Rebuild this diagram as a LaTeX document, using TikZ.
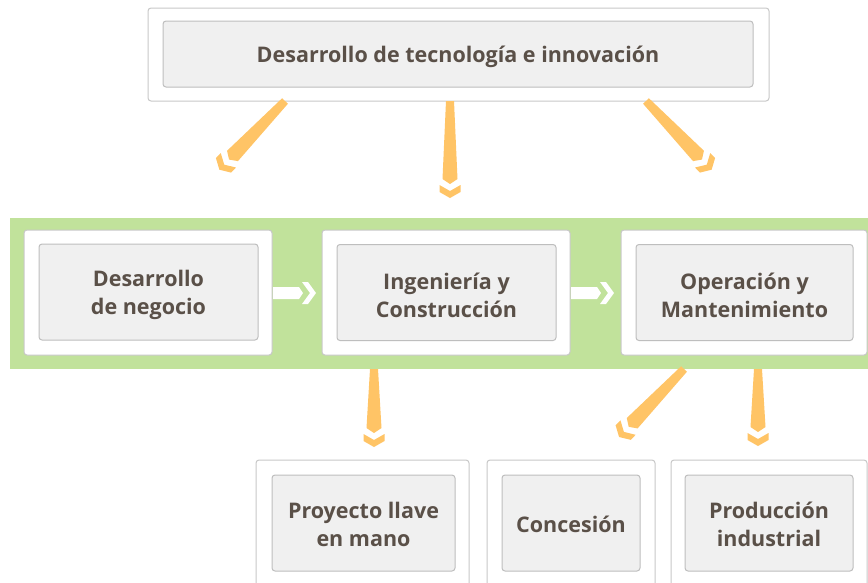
\documentclass[tikz,border=0pt]{standalone}
\usepackage{fontspec}
\setmainfont{Open Sans}
\usetikzlibrary{calc}
\definecolor{textcol}{RGB}{90,80,72}
\definecolor{outerline}{RGB}{200,200,200}
\definecolor{innerline}{RGB}{190,190,190}
\definecolor{innerfill}{RGB}{240,240,240}
\definecolor{bandcol}{RGB}{193,226,155}
\definecolor{arrowcol}{RGB}{255,196,102}
\tikzset{
  outerbox/.style={draw=outerline, fill=white, line width=1pt, rounded corners=3pt, inner sep=0pt, outer sep=0pt},
  txt/.style={align=center, text=textcol, font=\fontsize{21.5}{28}\selectfont\bfseries, yshift=-3pt, inner sep=0pt},
  boxbase/.style={draw=innerline, fill=innerfill, line width=1pt, rounded corners=3pt, inner sep=0pt, outer sep=0pt},
  innerbox/.style={boxbase, label={[txt]center:{#1}}},
  innerboxlow/.style={boxbase, label={[txt, yshift=2pt]center:{#1}}},
  chevarrow/.pic={
    \fill[arrowcol] (-4,0) -- (4,0) -- (7.5,-#1) -- (0,-#1-5) -- (-7.5,-#1) -- cycle;
    \fill[arrowcol] (-10.5,-#1-6) -- (0,-#1-12) -- (10.5,-#1-6) -- (10.5,-#1-13) -- (0,-#1-19) -- (-10.5,-#1-13) -- cycle;
  },
  whitearrow/.pic={
    \fill[white] (0,6) -- (26,6) -- (30,0) -- (26,-6) -- (0,-6) -- cycle;
    \fill[white] (29,11) -- (35,11) -- (43,0) -- (35,-11) -- (29,-11) -- (37,0) -- cycle;
  }
}
\begin{document}
\begin{tikzpicture}[x=1pt,y=1pt]
\clip (0,0) rectangle (868,-582);
\fill[white] (0,0) rectangle (868,-582);

% top box
\node[outerbox, minimum width=621, minimum height=93] (topout) at (458.5,-54.5) {};
\node[innerbox={Desarrollo de tecnología e innovación}, minimum width=590, minimum height=66] (top) at (458,-54) {};

% green band
\node[fill=bandcol, inner sep=0pt, outer sep=0pt, minimum width=858, minimum height=151] (band) at (439,-293.5) {};

% middle row
\node[outerbox, minimum width=248, minimum height=125] (b1out) at (148,-292.5) {};
\node[innerbox={Desarrollo\\de negocio}, minimum width=219, minimum height=96] (b1) at (148.5,-292) {};
\node[outerbox, minimum width=248, minimum height=125] (b2out) at (446,-292.5) {};
\node[innerbox={Ingeniería y\\Construcción}, minimum width=219, minimum height=96] (b2) at (446.5,-292.5) {};
\node[outerbox, minimum width=246, minimum height=125] (b3out) at (744,-292.5) {};
\node[innerbox={Operación y\\Mantenimiento}, minimum width=217, minimum height=96] (b3) at (744.5,-292.5) {};

% bottom row
\node[outerbox, minimum width=213, minimum height=160] (c1out) at (362.5,-540) {};
\node[innerboxlow={Proyecto llave\\en mano}, minimum width=183, minimum height=96] (c1) at (363.5,-523) {};
\node[outerbox, minimum width=168, minimum height=160] (c2out) at (571,-540) {};
\node[innerboxlow={Concesión}, minimum width=138, minimum height=96] (c2) at (571,-523) {};
\node[outerbox, minimum width=196, minimum height=160] (c3out) at (769,-540) {};
\node[innerboxlow={Producción\\industrial}, minimum width=168, minimum height=96] (c3) at (769,-523) {};

% arrow start points
\coordinate (a1) at (topout.south -| 285,0);
\coordinate (a2) at (topout.south -| 450,0);
\coordinate (a3) at (topout.south -| 646,0);
\coordinate (a4) at (band.south -| 374,0);
\coordinate (a5) at (band.south -| 684,0);
\coordinate (a6) at (band.south -| 758,0);
\coordinate (h1) at (b1out.east |- 0,-293);
\coordinate (h2) at (b2out.east |- 0,-293);

% orange arrows
\pic[rotate=-43.7] at (a1) {chevarrow=76};
\pic at (a2) {chevarrow=78};
\pic[rotate=43.7] at (a3) {chevarrow=76};
\pic at (a4) {chevarrow=59};
\pic[rotate=-43.7] at (a5) {chevarrow=75};
\pic at (a6) {chevarrow=58};

% white arrows in band
\pic at ([xshift=1pt]h1) {whitearrow};
\pic at ([xshift=1pt]h2) {whitearrow};
\end{tikzpicture}
\end{document}
